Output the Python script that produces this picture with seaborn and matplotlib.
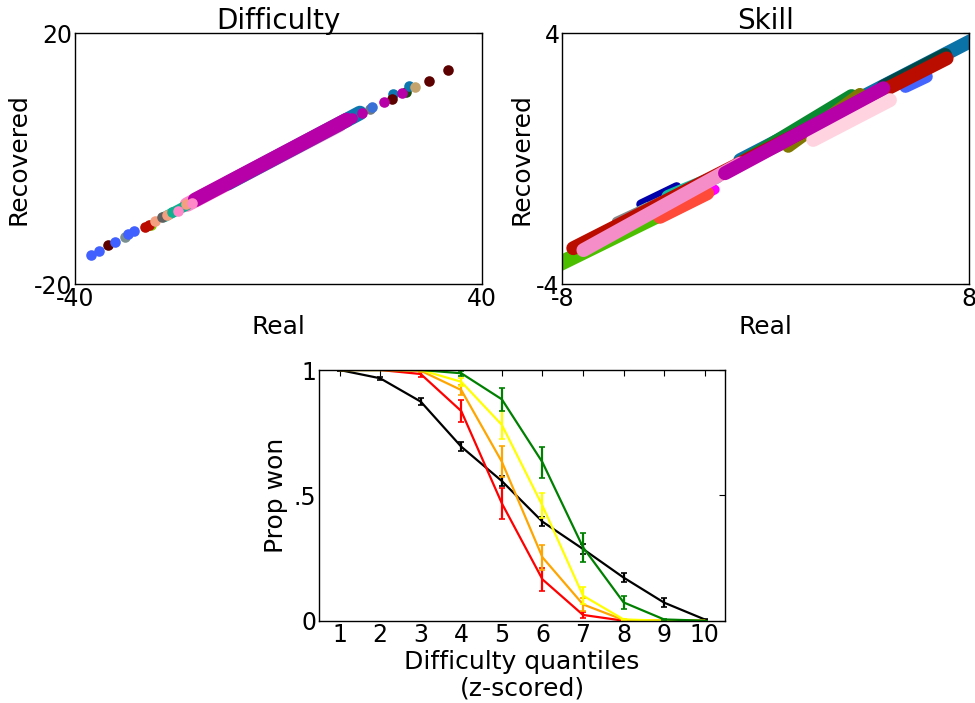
import matplotlib
matplotlib.use("Agg")
import matplotlib.pyplot as plt
import seaborn as sns
import numpy as np

# ---------------- Difficulty panel data ----------------
# dense bands of overlapping points: (real start, real end), (recovered start, recovered end)
diff_band_colors = ["#ff88c8", "#0b76b0", "#10b090", "#b800a8"]
diff_band_real = [(-18.0, 12.0), (-10.0, 16.0), (-22.5, -18.0), (-16.4, 13.4)]
diff_band_rec = [(-7.3, 5.45), (-3.9, 7.3), (-9.3, -7.4), (-6.56, 6.19)]
diff_band_widths = [10.5, 10.5, 7.5, 10.5]

# individual points
diff_pt_colors = ["#000080", "#4060ff", "#4060ff", "#5c0000", "#4060ff", "#7a9090",
                  "#4060ff", "#4060ff", "#80d000", "#bb0a00", "#bb0a00", "#f4a080",
                  "#606060", "#f4a080", "#10b090", "#ff88c8", "#f4a080", "#ff88c8",
                  "#b800a8", "#707a80", "#3a6fd8", "#b800a8", "#0b76b0", "#5c0000",
                  "#b800a8", "#1c4a10", "#0b76b0", "#b800a8", "#c4a46c", "#5c0000",
                  "#5c0000"]
diff_pt_real = [-41.5, -36.9, -35.3, -33.45, -32.1, -30.2,
                -29.5, -28.4, -25.0, -26.2, -25.5, -24.3,
                -22.9, -22.0, -21.0, -19.7, -18.2, -17.05,
                14.4, 18.0, 18.4, 16.4, 22.6, 22.3,
                20.65, 25.1, 25.6, 24.26, 26.9, 29.5,
                33.4]
diff_pt_rec = [-17.2, -15.33, -14.64, -13.74, -13.2, -12.5,
               -11.98, -11.5, -10.6, -10.9, -10.5, -9.9,
               -9.3, -8.95, -8.43, -8.27, -7.2, -7.0,
               6.46, 8.0, 8.2, 7.26, 10.33, 9.49,
               9.1, 10.7, 11.6, 10.45, 11.4, 12.45,
               14.16]

# ---------------- Skill panel data ----------------
skill_colors = ["#0b72a8", "#4cc000", "#0000aa", "#80ffb0", "#888888", "#0a8a30",
                "#807800", "#004848", "#4466ff", "#8a5a10", "#ffaa88", "#000000",
                "#ff00ff", "#ff4a3a", "#10c0a0", "#bb0c00", "#f58ec8", "#ffd4e0",
                "#b800a8"]
skill_real = [(-1.0, 8.7), (-8.8, -3.6), (-4.9, -3.5), (-5.6, -4.6), (-5.86, 4.23), (-1.0, 3.38),
              (0.89, 3.71), (4.63, 7.06), (5.5, 6.33), (2.5, 3.45), (2.0, 2.92), (2.0, 2.53),
              (-2.4, -2.0), (-4.16, -2.3), (-3.83, -1.93), (-7.57, 7.12), (-7.17, -1.0), (1.87, 4.89),
              (-1.6, 4.63)]
skill_rec = [(-0.04, 4.02), (-3.62, -1.55), (-1.45, -0.9), (-1.95, -1.55), (-2.0, 1.77), (-0.14, 2.0),
             (0.39, 2.06), (2.3, 3.31), (2.3, 2.62), (1.05, 1.45), (0.8, 1.18), (0.8, 1.02),
             (-1.15, -0.98), (-1.85, -1.1), (-1.21, -0.57), (-2.85, 3.2), (-2.91, -0.15), (0.6, 1.87),
             (-0.46, 2.25)]
skill_widths = [10, 11, 7, 8, 7, 10,
                9, 10, 9, 9, 9, 4,
                7, 10, 10, 10, 10, 10,
                10]

# ---------------- Prop won panel data ----------------
quantiles = [1, 2, 3, 4, 5, 6, 7, 8, 9, 10]
won_black = [1.0, 0.967, 0.874, 0.694, 0.557, 0.395, 0.286, 0.172, 0.072, 0.005]
err_black = [0.002, 0.005, 0.013, 0.018, 0.02, 0.019, 0.019, 0.019, 0.017, 0.003]
won_red = [1.0, 1.0, 0.984, 0.836, 0.468, 0.165, 0.023, 0.0, 0.0, 0.0]
err_red = [0.0, 0.0, 0.01, 0.045, 0.063, 0.045, 0.012, 0.0, 0.0, 0.0]
won_orange = [1.0, 1.0, 0.997, 0.92, 0.634, 0.253, 0.065, 0.003, 0.0, 0.0]
err_orange = [0.0, 0.0, 0.003, 0.02, 0.062, 0.05, 0.027, 0.002, 0.0, 0.0]
won_yellow = [1.0, 1.0, 1.0, 0.953, 0.781, 0.459, 0.1, 0.005, 0.0, 0.0]
err_yellow = [0.0, 0.0, 0.0, 0.017, 0.055, 0.049, 0.033, 0.003, 0.0, 0.0]
won_green = [1.0, 1.0, 1.0, 0.987, 0.883, 0.632, 0.293, 0.073, 0.005, 0.0]
err_green = [0.0, 0.0, 0.0, 0.011, 0.045, 0.062, 0.057, 0.027, 0.003, 0.0]
series_colors = ["black", "red", "orange", "yellow", "green"]

# ---------------- style ----------------
sns.set_style("white")
plt.rcParams["font.family"] = ["DejaVu Sans"]
plt.rcParams["axes.edgecolor"] = "black"
plt.rcParams["axes.linewidth"] = 1.0
plt.rcParams["axes.unicode_minus"] = False
plt.rcParams["text.color"] = "black"
plt.rcParams["axes.labelcolor"] = "black"
plt.rcParams["xtick.color"] = "black"
plt.rcParams["ytick.color"] = "black"

fig = plt.figure(figsize=(9.75, 7.03), dpi=100)
W, H = 975, 703


def make_axes(x0, x1, y0, y1):
    return fig.add_axes([x0 / W, 1 - y1 / H, (x1 - x0) / W, (y1 - y0) / H])


def style(ax):
    ax.tick_params(direction="in", top=True, right=True, length=4, width=0.8,
                   labelsize=17, pad=2, color="black", labelcolor="black")
    for s in ax.spines.values():
        s.set_color("black")
        s.set_linewidth(1.0)


ax1 = make_axes(75, 482, 33.3, 284.3)
ax2 = make_axes(562.3, 969, 33.3, 284.3)
ax3 = make_axes(319.3, 725, 370, 620.7)

# Difficulty
for c, xr, yr, lw in zip(diff_band_colors, diff_band_real, diff_band_rec, diff_band_widths):
    sns.lineplot(x=list(xr), y=list(yr), color=c, lw=lw, ax=ax1,
                 solid_capstyle="round", sort=False, estimator=None)
for c, xv, yv in zip(diff_pt_colors, diff_pt_real, diff_pt_rec):
    sns.scatterplot(x=[xv], y=[yv], color=c, s=58, linewidth=0, ax=ax1, zorder=3)
ax1.set_xlim(-40, 40)
ax1.set_ylim(-20, 20)
ax1.set_xticks([-40, 40])
ax1.set_yticks([-20, 20])
ax1.set_xlabel("Real", fontsize=18, labelpad=3)
ax1.set_ylabel("Recovered", fontsize=18, labelpad=2)
ax1.set_title("Difficulty", fontsize=20, pad=3)
style(ax1)

# Skill
for c, xr, yr, lw in zip(skill_colors, skill_real, skill_rec, skill_widths):
    sns.lineplot(x=list(xr), y=list(yr), color=c, lw=lw, ax=ax2,
                 solid_capstyle="round", sort=False, estimator=None)
ax2.set_xlim(-8, 8)
ax2.set_ylim(-4, 4)
ax2.set_xticks([-8, 8])
ax2.set_yticks([-4, 4])
ax2.set_xlabel("Real", fontsize=18, labelpad=3)
ax2.set_ylabel("Recovered", fontsize=18, labelpad=2)
ax2.set_title("Skill", fontsize=20, pad=3)
style(ax2)

# Prop won
all_won = [won_black, won_red, won_orange, won_yellow, won_green]
all_err = [err_black, err_red, err_orange, err_yellow, err_green]
for c, w, e in zip(series_colors, all_won, all_err):
    sns.lineplot(x=quantiles, y=w, color=c, lw=1.6, ax=ax3)
    ax3.errorbar(quantiles, w, yerr=e, fmt="none", ecolor=c, elinewidth=1.6,
                 capsize=2, capthick=1.2)
ax3.set_xlim(0.5, 10.5)
ax3.set_ylim(0, 1)
ax3.set_xticks(quantiles)
ax3.set_yticks([0, 0.5, 1])
ax3.set_yticklabels(["0", ".5", "1"])
ax3.set_xlabel("Difficulty quantiles\n(z-scored)", fontsize=18, labelpad=2, linespacing=1.1)
ax3.set_ylabel("Prop won", fontsize=18, labelpad=4)
style(ax3)

fig.savefig("out.png", dpi=100)
